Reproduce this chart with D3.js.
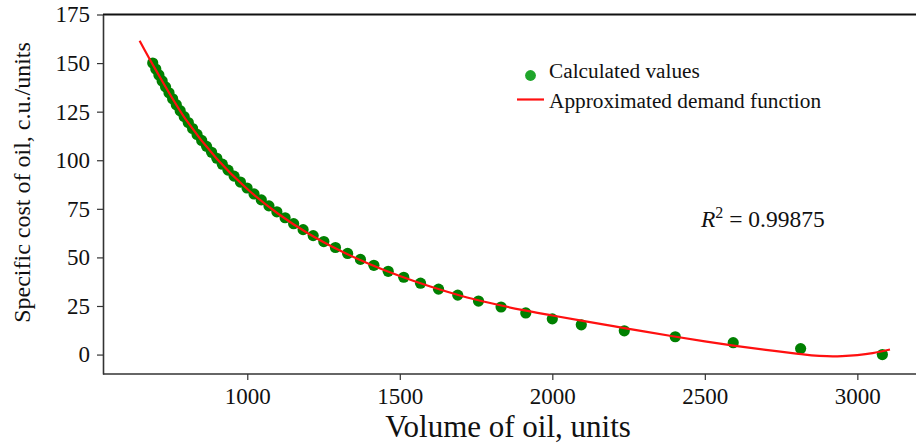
<!DOCTYPE html>
<html>
<head>
<meta charset="utf-8">
<script src="https://cdn.jsdelivr.net/npm/d3@7/dist/d3.min.js"></script>
<style>
  html, body { margin: 0; padding: 0; background: #ffffff; }
  #viz_container { width: 916px; height: 443px; }
  text { font-family: "Liberation Serif", "Times New Roman", serif; fill: #111; }
</style>
</head>
<body>
<div id="viz_container"></div>
<script>
// Calculated values (volume of oil, units / specific cost, c.u./units)
const volume = [690, 700, 710.3, 721, 732, 743.4, 755.2, 767.3, 780, 793.1,
  806.6, 820.7, 835.4, 850.6, 866.5, 883, 900.2, 918.2, 937.1, 956.8,
  977.5, 999.3, 1022.1, 1046, 1071, 1097, 1124, 1152, 1183, 1216,
  1251, 1289, 1329, 1371, 1415, 1462, 1513, 1568, 1627, 1690,
  1758, 1832, 1913, 2000, 2095, 2236, 2403, 2593, 2814, 3082];
const cost = [150, 146.94, 143.88, 140.82, 137.76, 134.69, 131.63, 128.57, 125.51, 122.45,
  119.39, 116.33, 113.27, 110.2, 107.14, 104.08, 101.02, 97.96, 94.9, 91.84,
  88.78, 85.71, 82.65, 79.59, 76.53, 73.47, 70.41, 67.35, 64.29, 61.22,
  58.16, 55.1, 52.04, 48.98, 45.92, 42.86, 39.8, 36.73, 33.67, 30.61,
  27.55, 24.49, 21.43, 18.37, 15.31, 12.24, 9.18, 6.12, 3.06, 0];

// Approximated demand function
const fitVolume = [647, 700, 800, 900, 1000, 1100, 1200, 1300, 1400, 1500, 1600, 1700,
  1800, 1900, 2000, 2100, 2200, 2300, 2400, 2500, 2600, 2700, 2800, 2850, 2900, 2950,
  3000, 3050, 3107];
const fitCost = [161.5, 146.5, 120.6, 100.8, 85.2, 72.6, 62.3, 53.8, 46.6, 40.4, 35.0, 30.3,
  26.4, 23.0, 20.1, 17.3, 14.6, 11.9, 9.3, 6.8, 4.5, 2.4, 0.5, -0.4, -0.85, -0.8,
  -0.3, 0.7, 2.6];

const xTicks = [1000, 1500, 2000, 2500, 3000];
const yTicks = [0, 25, 50, 75, 100, 125, 150, 175];
const legendLabels = ["Calculated values", "Approximated demand function"];
const rSquared = "0.99875";

const width = 916;
const height = 443;
const serif = '"Liberation Serif", "Times New Roman", serif';

const svg = d3
  .select("#viz_container")
  .append("svg")
  .attr("width", width)
  .attr("height", height)
  .attr("viewBox", `0 0 ${width} ${height}`);

svg.append("rect").attr("width", width).attr("height", height).attr("fill", "#ffffff");

const x = d3.scaleLinear().domain([527, 3189]).range([103, 915]);
const y = d3.scaleLinear().domain([-10, 175]).range([374, 14.5]);

// top frame line
svg.append("line")
  .attr("x1", 103).attr("x2", 916)
  .attr("y1", 14.5).attr("y2", 14.5)
  .attr("stroke", "#111").attr("stroke-width", 1.8);

// axes
const xAxis = svg.append("g")
  .attr("transform", `translate(0,${y.range()[0]})`)
  .call(d3.axisBottom(x).tickValues(xTicks).tickFormat(d3.format("d"))
    .tickSize(6).tickPadding(8).tickSizeOuter(0));

const yAxis = svg.append("g")
  .attr("transform", `translate(${x.range()[0]},0)`)
  .call(d3.axisLeft(y).tickValues(yTicks).tickFormat(d3.format("d"))
    .tickSize(6).tickPadding(7).tickSizeOuter(0));

[xAxis, yAxis].forEach((g) => {
  g.attr("font-family", serif).attr("font-size", 23);
  g.select(".domain").attr("stroke", "#333").attr("stroke-width", 1.6);
  g.selectAll(".tick line").attr("stroke", "#333").attr("stroke-width", 1.2);
  g.selectAll(".tick text")
    .attr("font-family", serif)
    .attr("font-size", 23)
    .attr("fill", "#111");
});
// extend the bottom axis line to the right edge
xAxis.select(".domain").attr("d", `M${x.range()[0]},0H916`);

// axis titles
svg.append("text")
  .attr("x", 508)
  .attr("y", 437)
  .attr("text-anchor", "middle")
  .style("font-size", "31px")
  .text("Volume of oil, units");

svg.append("text")
  .attr("transform", `translate(30,${182.5}) rotate(-90)`)
  .attr("text-anchor", "middle")
  .style("font-size", "24px")
  .text("Specific cost of oil, c.u./units");

// calculated values
const points = volume.map((v, i) => ({ v: v, c: cost[i] }));
svg.append("g")
  .selectAll("circle")
  .data(points)
  .enter()
  .append("circle")
  .attr("cx", (d) => x(d.v))
  .attr("cy", (d) => y(d.c))
  .attr("r", 5.6)
  .attr("fill", "#008000");

// approximated demand function
const fit = fitVolume.map((v, i) => [v, fitCost[i]]);
const lineGen = d3.line()
  .x((d) => x(d[0]))
  .y((d) => y(d[1]))
  .curve(d3.curveCatmullRom);

svg.append("path")
  .datum(fit)
  .attr("d", lineGen)
  .attr("fill", "none")
  .attr("stroke", "#ff1010")
  .attr("stroke-width", 2.2);

// legend
const legend = svg.append("g");
legend.append("circle")
  .attr("cx", 530.5).attr("cy", 75.5).attr("r", 5.4)
  .attr("fill", "#1fa52a");
legend.append("line")
  .attr("x1", 517).attr("x2", 544)
  .attr("y1", 99.5).attr("y2", 99.5)
  .attr("stroke", "#ff1010").attr("stroke-width", 2.2);
legend.selectAll("text.leg")
  .data(legendLabels)
  .enter()
  .append("text")
  .attr("class", "leg")
  .attr("x", 549)
  .attr("y", (d, i) => 78 + i * 30)
  .style("font-size", "21.3px")
  .text((d) => d);

// R squared annotation
const r2 = svg.append("text")
  .attr("x", 701)
  .attr("y", 227)
  .style("font-size", "23.5px");
r2.append("tspan").style("font-style", "italic").text("R");
r2.append("tspan").attr("dy", -9).style("font-size", "16px").text("2");
r2.append("tspan").attr("dy", 9).text(" = " + rSquared);
</script>
</body>
</html>
